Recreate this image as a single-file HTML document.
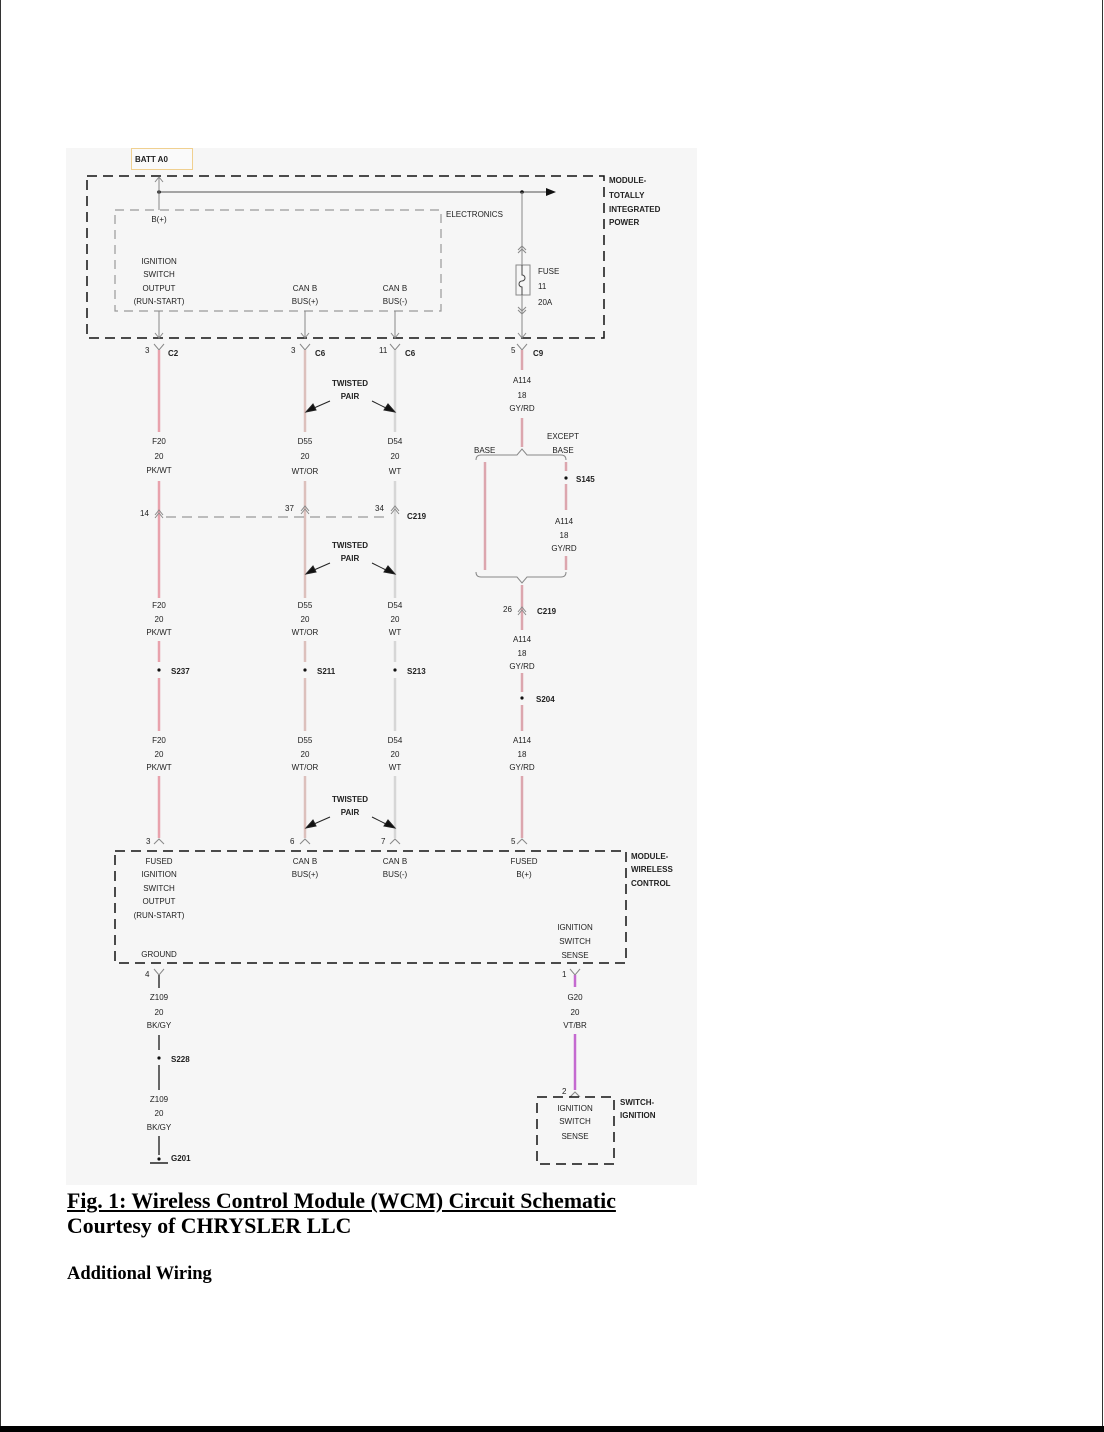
<!DOCTYPE html>
<html><head><meta charset="utf-8"><style>
html,body{margin:0;padding:0;background:#fff;}
body{width:1104px;height:1432px;position:relative;overflow:hidden;}
.cap{position:absolute;left:67px;font-family:"Liberation Serif",serif;font-weight:bold;color:#000;}
svg text{font-family:"Liberation Sans",sans-serif;font-size:8px;fill:#222;}
svg text.b{font-weight:bold;}
</style></head><body>
<div style="position:absolute;left:0;top:0;width:1px;height:1432px;background:#333"></div>
<div style="position:absolute;left:1102px;top:0;width:1px;height:1432px;background:#333"></div>
<div style="position:absolute;left:0;top:1426px;width:1104px;height:6px;background:#000"></div>
<svg width="1104" height="1432" style="position:absolute;left:0;top:0">
<rect x="66" y="148" width="631" height="1037" fill="#f6f6f6"/>
<rect x="131.5" y="148.5" width="61" height="21" fill="#fafafa" stroke="#f0d090"/>
<text x="135" y="162" class="b" font-size="7">BATT A0</text>
<rect x="87" y="176" width="517" height="162" fill="none" stroke="#111" stroke-width="1.5" stroke-dasharray="10,6"/>
<text x="609" y="183" class="b">MODULE-</text><text x="609" y="198" class="b">TOTALLY</text><text x="609" y="212" class="b">INTEGRATED</text><text x="609" y="225" class="b">POWER</text>
<rect x="115" y="210" width="326" height="101" fill="none" stroke="#999" stroke-width="1.2" stroke-dasharray="9,6"/>
<text x="446" y="217">ELECTRONICS</text>
<line x1="159" y1="192" x2="548" y2="192" stroke="#888" stroke-width="1.5"/>
<polygon points="546,188 556,192 546,196" fill="#111"/>
<circle cx="159" cy="192" r="1.8" fill="#111"/><circle cx="522" cy="192" r="1.8" fill="#111"/>
<line x1="159" y1="178" x2="159" y2="210" stroke="#888"/>
<polyline points="155,182 159,177 163,182" fill="none" stroke="#888"/>
<text x="159" y="222" text-anchor="middle">B(+)</text>
<text x="159" y="264" text-anchor="middle">IGNITION</text><text x="159" y="277" text-anchor="middle">SWITCH</text><text x="159" y="291" text-anchor="middle">OUTPUT</text><text x="159" y="304" text-anchor="middle">(RUN-START)</text>
<text x="305" y="291" text-anchor="middle">CAN B</text><text x="305" y="304" text-anchor="middle">BUS(+)</text>
<text x="395" y="291" text-anchor="middle">CAN B</text><text x="395" y="304" text-anchor="middle">BUS(-)</text>
<g stroke="#888" fill="none">
<line x1="159" y1="311" x2="159" y2="338"/><polyline points="155,333 159,338 163,333"/>
<line x1="305" y1="311" x2="305" y2="338"/><polyline points="301,333 305,338 309,333"/>
<line x1="395" y1="311" x2="395" y2="338"/><polyline points="391,333 395,338 399,333"/>
<line x1="522" y1="192" x2="522" y2="338"/><polyline points="518,333 522,338 526,333"/>
<polyline points="518,250 522,246 526,250"/><polyline points="518,253 522,249 526,253"/>
<polyline points="518,307 522,311 526,307"/><polyline points="518,310 522,314 526,310"/>
<rect x="516" y="265" width="14" height="30" fill="#f6f6f6"/>
<path d="M522,265 v10 a3,3 0 0 1 0,6 a3,3 0 0 0 0,6 v8" stroke="#444"/>
</g>
<text x="538" y="274">FUSE</text><text x="538" y="289">11</text><text x="538" y="305">20A</text>
<g stroke="#888" fill="none">
<polyline points="154,344 159,350 164,344"/><polyline points="300,344 305,350 310,344"/><polyline points="390,344 395,350 400,344"/><polyline points="517,344 522,350 527,344"/>
</g>
<text x="145" y="353">3</text><text x="168" y="356" class="b" font-size="7">C2</text>
<text x="291" y="353">3</text><text x="315" y="356" class="b" font-size="7">C6</text>
<text x="379" y="353">11</text><text x="405" y="356" class="b" font-size="7">C6</text>
<text x="511" y="353">5</text><text x="533" y="356" class="b" font-size="7">C9</text>
<g stroke="#e8a2ac" stroke-width="2.5">
<line x1="159" y1="350" x2="159" y2="432"/><line x1="159" y1="481" x2="159" y2="598"/><line x1="159" y1="641" x2="159" y2="662"/><line x1="159" y1="678" x2="159" y2="731"/><line x1="159" y1="776" x2="159" y2="838"/>
</g>
<g stroke="#dcc0bc" stroke-width="2.5">
<line x1="305" y1="350" x2="305" y2="432"/><line x1="305" y1="481" x2="305" y2="598"/><line x1="305" y1="641" x2="305" y2="662"/><line x1="305" y1="678" x2="305" y2="731"/><line x1="305" y1="776" x2="305" y2="838"/>
</g>
<g stroke="#d6d6d6" stroke-width="2.5">
<line x1="395" y1="350" x2="395" y2="432"/><line x1="395" y1="481" x2="395" y2="598"/><line x1="395" y1="641" x2="395" y2="662"/><line x1="395" y1="678" x2="395" y2="731"/><line x1="395" y1="776" x2="395" y2="838"/>
</g>
<g stroke="#dca6ae" stroke-width="2.5">
<line x1="522" y1="350" x2="522" y2="370"/><line x1="522" y1="418" x2="522" y2="447"/>
<line x1="485" y1="462" x2="485" y2="570"/>
<line x1="566" y1="462" x2="566" y2="471"/><line x1="566" y1="484" x2="566" y2="510"/><line x1="566" y1="556" x2="566" y2="570"/>
<line x1="522" y1="585" x2="522" y2="630"/><line x1="522" y1="673" x2="522" y2="692"/><line x1="522" y1="705" x2="522" y2="731"/><line x1="522" y1="776" x2="522" y2="838"/>
</g>
<path d="M476,460 q0,-5 5,-5 h36 l5,-6 l5,6 h34 q5,0 5,5" fill="none" stroke="#888"/>
<path d="M476,572 q0,5 5,5 h36 l5,6 l5,-6 h34 q5,0 5,-5" fill="none" stroke="#888"/>
<text x="474" y="453">BASE</text>
<text x="563" y="439" text-anchor="middle">EXCEPT</text><text x="563" y="453" text-anchor="middle">BASE</text>
<circle cx="566" cy="478" r="1.6" fill="#111"/><text x="576" y="482" class="b" font-size="7">S145</text>
<text x="564" y="524" text-anchor="middle">A114</text><text x="564" y="538" text-anchor="middle">18</text><text x="564" y="551" text-anchor="middle">GY/RD</text>
<line x1="166" y1="517" x2="390" y2="517" stroke="#999" stroke-width="1.2" stroke-dasharray="10,6"/>
<g stroke="#888" fill="none">
<polyline points="155,515 159,510 163,515"/><polyline points="155,518 159,513 163,518"/>
<polyline points="301,511 305,506 309,511"/><polyline points="301,514 305,509 309,514"/>
<polyline points="391,511 395,506 399,511"/><polyline points="391,514 395,509 399,514"/>
<polyline points="518,612 522,607 526,612"/><polyline points="518,615 522,610 526,615"/>
</g>
<text x="140" y="516">14</text><text x="285" y="511">37</text><text x="375" y="511">34</text><text x="407" y="519" class="b" font-size="7">C219</text>
<text x="503" y="612">26</text><text x="537" y="614" class="b" font-size="7">C219</text>
<g text-anchor="middle">
<text x="159" y="444">F20</text><text x="159" y="459">20</text><text x="159" y="473">PK/WT</text>
<text x="305" y="444">D55</text><text x="305" y="459">20</text><text x="305" y="474">WT/OR</text>
<text x="395" y="444">D54</text><text x="395" y="459">20</text><text x="395" y="474">WT</text>
<text x="159" y="608">F20</text><text x="159" y="622">20</text><text x="159" y="635">PK/WT</text>
<text x="305" y="608">D55</text><text x="305" y="622">20</text><text x="305" y="635">WT/OR</text>
<text x="395" y="608">D54</text><text x="395" y="622">20</text><text x="395" y="635">WT</text>
<text x="159" y="743">F20</text><text x="159" y="757">20</text><text x="159" y="770">PK/WT</text>
<text x="305" y="743">D55</text><text x="305" y="757">20</text><text x="305" y="770">WT/OR</text>
<text x="395" y="743">D54</text><text x="395" y="757">20</text><text x="395" y="770">WT</text>
<text x="522" y="383">A114</text><text x="522" y="398">18</text><text x="522" y="411">GY/RD</text>
<text x="522" y="642">A114</text><text x="522" y="656">18</text><text x="522" y="669">GY/RD</text>
<text x="522" y="743">A114</text><text x="522" y="757">18</text><text x="522" y="770">GY/RD</text>
</g>
<g fill="#111"><circle cx="159" cy="670" r="1.6"/><circle cx="305" cy="670" r="1.6"/><circle cx="395" cy="670" r="1.6"/><circle cx="522" cy="698" r="1.6"/></g>
<text x="171" y="674" class="b" font-size="7">S237</text><text x="317" y="674" class="b" font-size="7">S211</text><text x="407" y="674" class="b" font-size="7">S213</text><text x="536" y="702" class="b" font-size="7">S204</text>
<text x="350" y="386" text-anchor="middle" class="b" font-size="7">TWISTED</text><text x="350" y="399" text-anchor="middle" class="b" font-size="7">PAIR</text>
<text x="350" y="548" text-anchor="middle" class="b" font-size="7">TWISTED</text><text x="350" y="561" text-anchor="middle" class="b" font-size="7">PAIR</text>
<text x="350" y="802" text-anchor="middle" class="b" font-size="7">TWISTED</text><text x="350" y="815" text-anchor="middle" class="b" font-size="7">PAIR</text>
<g stroke="#222" fill="#111">
<line x1="330" y1="401" x2="314" y2="408"/><polygon points="306,412 313,404 316,410"/>
<line x1="372" y1="401" x2="386" y2="408"/><polygon points="395,412 384,410 388,404"/>
<line x1="330" y1="563" x2="314" y2="570"/><polygon points="306,574 313,566 316,572"/>
<line x1="372" y1="563" x2="386" y2="570"/><polygon points="395,574 384,572 388,566"/>
<line x1="330" y1="817" x2="314" y2="824"/><polygon points="306,828 313,820 316,826"/>
<line x1="372" y1="817" x2="386" y2="824"/><polygon points="395,828 384,826 388,820"/>
</g>
<g stroke="#888" fill="none">
<polyline points="154,844 159,839 164,844"/><polyline points="300,844 305,839 310,844"/><polyline points="390,844 395,839 400,844"/><polyline points="517,844 522,839 527,844"/>
</g>
<text x="146" y="844">3</text><text x="290" y="844">6</text><text x="381" y="844">7</text><text x="511" y="844">5</text>
<rect x="115" y="851" width="511" height="112" fill="none" stroke="#111" stroke-width="1.5" stroke-dasharray="10,6"/>
<text x="631" y="859" class="b">MODULE-</text><text x="631" y="872" class="b">WIRELESS</text><text x="631" y="886" class="b">CONTROL</text>
<g text-anchor="middle">
<text x="159" y="864">FUSED</text><text x="159" y="877">IGNITION</text><text x="159" y="891">SWITCH</text><text x="159" y="904">OUTPUT</text><text x="159" y="918">(RUN-START)</text>
<text x="305" y="864">CAN B</text><text x="305" y="877">BUS(+)</text>
<text x="395" y="864">CAN B</text><text x="395" y="877">BUS(-)</text>
<text x="524" y="864">FUSED</text><text x="524" y="877">B(+)</text>
<text x="575" y="930">IGNITION</text><text x="575" y="944">SWITCH</text><text x="575" y="958">SENSE</text>
<text x="159" y="957">GROUND</text>
</g>
<g stroke="#888" fill="none"><polyline points="154,969 159,975 164,969"/><polyline points="570,969 575,975 580,969"/><polyline points="570,1097 575,1092 580,1097"/></g>
<text x="145" y="977">4</text><text x="562" y="977">1</text><text x="562" y="1094">2</text>
<g stroke="#666" stroke-width="2"><line x1="159" y1="975" x2="159" y2="988"/><line x1="159" y1="1035" x2="159" y2="1050"/><line x1="159" y1="1065" x2="159" y2="1090"/><line x1="159" y1="1136" x2="159" y2="1155"/></g>
<line x1="150" y1="1163" x2="168" y2="1163" stroke="#222" stroke-width="1.5"/>
<g fill="#111"><circle cx="159" cy="1058" r="1.6"/><circle cx="159" cy="1159" r="1.6"/></g>
<text x="171" y="1062" class="b" font-size="7">S228</text><text x="171" y="1161" class="b" font-size="7">G201</text>
<g stroke="#c46ad0" stroke-width="2.5"><line x1="575" y1="975" x2="575" y2="987"/><line x1="575" y1="1034" x2="575" y2="1090"/></g>
<g text-anchor="middle">
<text x="159" y="1000">Z109</text><text x="159" y="1015">20</text><text x="159" y="1028">BK/GY</text>
<text x="159" y="1102">Z109</text><text x="159" y="1116">20</text><text x="159" y="1130">BK/GY</text>
<text x="575" y="1000">G20</text><text x="575" y="1015">20</text><text x="575" y="1028">VT/BR</text>
<text x="575" y="1111">IGNITION</text><text x="575" y="1124">SWITCH</text><text x="575" y="1139">SENSE</text>
</g>
<rect x="537" y="1097" width="77" height="67" fill="none" stroke="#111" stroke-width="1.5" stroke-dasharray="10,6"/>
<text x="620" y="1105" class="b">SWITCH-</text><text x="620" y="1118" class="b">IGNITION</text>
</svg>
<div class="cap" style="top:1189px;font-size:21.8px;text-decoration:underline;">Fig. 1: Wireless Control Module (WCM) Circuit Schematic</div>
<div class="cap" style="top:1214px;font-size:21.8px;">Courtesy of CHRYSLER LLC</div>
<div class="cap" style="top:1264px;font-size:18.5px;">Additional Wiring</div>
</body></html>
